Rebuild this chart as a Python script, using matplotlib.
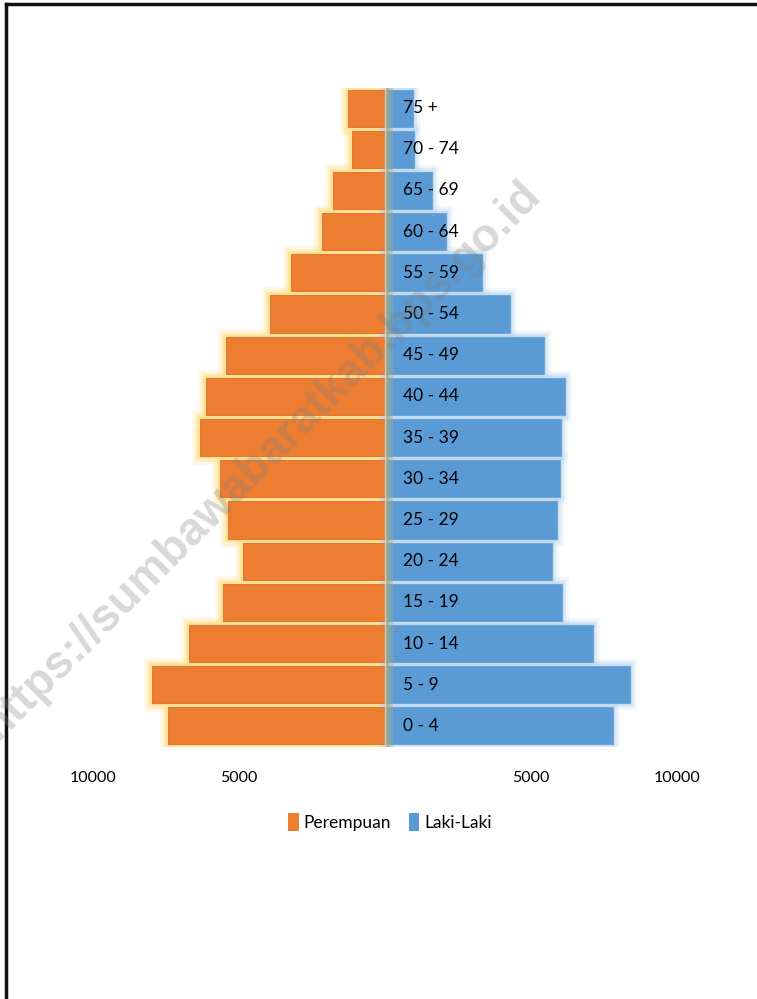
import matplotlib.pyplot as plt
import matplotlib.patheffects as pe
from matplotlib.patches import Patch
import numpy as np

plt.rcParams['font.family'] = ['Lato', 'DejaVu Sans']

# data (0-4 at bottom)
age_groups = ['0 - 4', '5 - 9', '10 - 14', '15 - 19', '20 - 24', '25 - 29',
              '30 - 34', '35 - 39', '40 - 44', '45 - 49', '50 - 54', '55 - 59',
              '60 - 64', '65 - 69', '70 - 74', '75 +']
perempuan = [7430, 7980, 6710, 5550, 4860, 5380, 5650, 6340,
             6130, 5450, 3940, 3220, 2160, 1780, 1130, 1270]
laki_laki = [7810, 8390, 7140, 6060, 5720, 5890, 5990, 6030,
             6160, 5440, 4280, 3320, 2100, 1610, 980, 960]
tick_vals = [-10000, -5000, 5000, 10000]
tick_labels = ['10000', '5000', '5000', '10000']

c_f = '#ED7D31'
c_m = '#5B9BD5'

fig = plt.figure(figsize=(7.57, 9.99), dpi=100)
ax = fig.add_axes([93/757, 1 - 746.5/999, (677 - 93)/757, (746.5 - 87.5)/999])

y = np.arange(len(age_groups))
neg_f = [-v for v in perempuan]

# glow layer
glow_f = [pe.Stroke(linewidth=12, foreground='#ffe699', alpha=0.25),
          pe.Stroke(linewidth=8, foreground='#ffe699', alpha=0.45),
          pe.Stroke(linewidth=4, foreground='#ffe08a', alpha=0.7)]
glow_m = [pe.Stroke(linewidth=10, foreground='#bdd7ee', alpha=0.2),
          pe.Stroke(linewidth=6, foreground='#bdd7ee', alpha=0.4),
          pe.Stroke(linewidth=3, foreground='#c5dcf0', alpha=0.7)]
bf = ax.barh(y, neg_f, height=0.9, color=c_f, zorder=1)
for b in bf:
    b.set_path_effects(glow_f)
bm = ax.barh(y, laki_laki, height=0.9, color=c_m, zorder=1)
for b in bm:
    b.set_path_effects(glow_m)

# main bars
ax.barh(y, neg_f, height=0.9, color=c_f, edgecolor='#e07a35', linewidth=0.8, zorder=2)
ax.barh(y, laki_laki, height=0.9, color=c_m, edgecolor='#6fa6d8', linewidth=0.8, zorder=2)

# center axis strip (soft glow of the vertical axis)
ax.axvspan(0, 150, color='#a4ad88', alpha=0.75, zorder=3, lw=0)
ax.axvspan(150, 270, color='#a4ad88', alpha=0.4, zorder=3, lw=0)
ax.axvline(0, color='#d6cda6', lw=1.0, zorder=3)

for yi, lab in zip(y, age_groups):
    ax.text(600, yi, lab, ha='left', va='center', fontsize=12.5,
            color='black', zorder=4)

ax.set_xlim(-10000, 10000)
ax.set_ylim(-0.5, len(age_groups) - 0.5)
ax.set_xticks(tick_vals)
ax.set_xticklabels(tick_labels, fontsize=11.5)
ax.set_yticks([])
ax.tick_params(axis='x', length=0, pad=18)
for s in ax.spines.values():
    s.set_visible(False)

# watermark
fig.text(262/757, 1 - 460/999, 'https://sumbawabaratkab.bps.go.id',
         rotation=45, ha='center', va='center', fontsize=33,
         family='Liberation Sans', fontweight='bold', color='#7f7f7f',
         alpha=0.3, zorder=10)

handles = [Patch(facecolor=c_f, label='Perempuan'),
           Patch(facecolor=c_m, label='Laki-Laki')]
fig.legend(handles=handles, loc='center', bbox_to_anchor=(390/757, 1 - 822/999),
           ncol=2, frameon=False, fontsize=12.5, handlelength=0.6,
           handleheight=1.2, handletextpad=0.3, columnspacing=1.0)

# frame (top and left visible)
fig.add_artist(plt.Line2D([6/757, 6/757], [0, 1 - 4/999], color='#111111',
                          lw=2.5, transform=fig.transFigure))
fig.add_artist(plt.Line2D([6/757, 1], [1 - 4/999, 1 - 4/999], color='#111111',
                          lw=2.5, transform=fig.transFigure))

fig.savefig('out.png', dpi=100)
